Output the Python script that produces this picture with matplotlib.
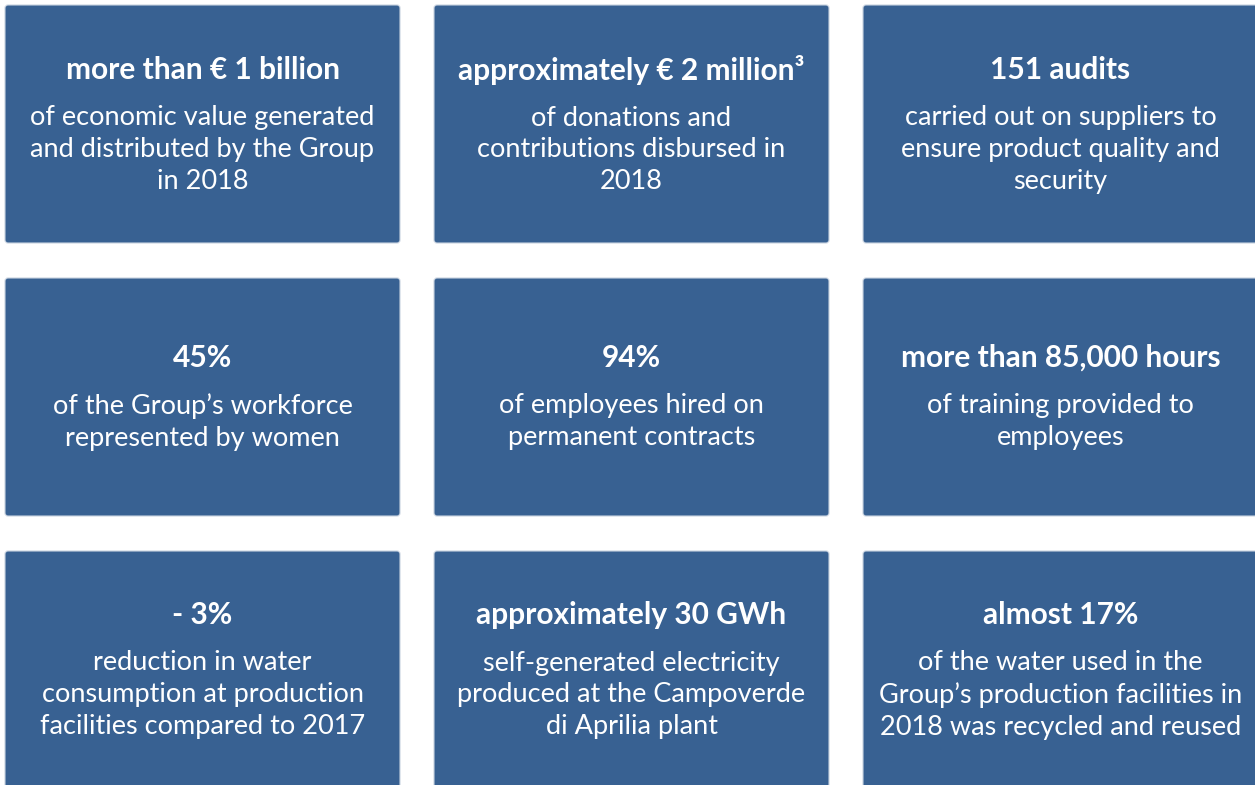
import matplotlib.pyplot as plt
from matplotlib.patches import FancyBboxPatch

# headline figures and the sentence under each one, row by row
headlines = [
    "more than € 1 billion", "approximately € 2 million³", "151 audits",
    "45%", "94%", "more than 85,000 hours",
    "- 3%", "approximately 30 GWh", "almost 17%",
]
captions = [
    "of economic value generated\nand distributed by the Group\nin 2018",
    "of donations and\ncontributions disbursed in\n2018",
    "carried out on suppliers to\nensure product quality and\nsecurity",
    "of the Group’s workforce\nrepresented by women",
    "of employees hired on\npermanent contracts",
    "of training provided to\nemployees",
    "reduction in water\nconsumption at production\nfacilities compared to 2017",
    "self-generated electricity\nproduced at the Campoverde\ndi Aprilia plant",
    "of the water used in the\nGroup’s production facilities in\n2018 was recycled and reused",
]

BOX = "#386192"
W, H = 1255, 785
col_x = [5, 434, 863]
row_y = [5, 278, 551]
box_w, box_h = 395, 238
title_dy = [65, 80, 64]   # headline offset from box top, per row

fig = plt.figure(figsize=(W / 100, H / 100), dpi=100)
ax = fig.add_axes([0, 0, 1, 1])
ax.set_xlim(0, W)
ax.set_ylim(H, 0)
ax.axis("off")

for i, (head, cap) in enumerate(zip(headlines, captions)):
    r, c = divmod(i, 3)
    x0, y0 = col_x[c], row_y[r]
    ax.add_patch(FancyBboxPatch((x0, y0), box_w, box_h,
                                boxstyle="round,pad=0,rounding_size=3",
                                facecolor=BOX, edgecolor="#c9d3e0", lw=0.8))
    cx = x0 + box_w / 2
    ty = y0 + title_dy[r]
    ax.text(cx, ty, head, ha="center", va="center", color="white",
            fontsize=21.5, fontweight="bold", family=["Lato", "DejaVu Sans"])
    ax.text(cx, ty + 35.5, cap, ha="center", va="top", color="white",
            fontsize=19.5, linespacing=1.33, family=["Lato", "DejaVu Sans"])

fig.savefig("out.png", dpi=100)
